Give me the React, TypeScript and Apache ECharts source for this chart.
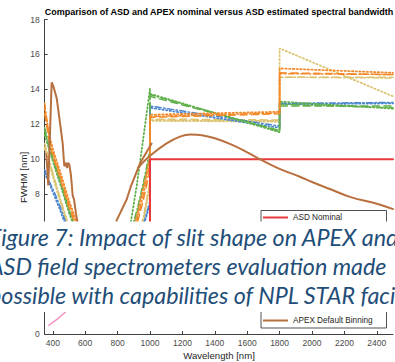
import React, { useEffect, useRef } from 'react';
import * as echarts from 'echarts';

const chartTitle = 'Comparison of ASD and APEX nominal versus ASD estimated spectral bandwidth';
const xAxisName = 'Wavelength [nm]';
const yAxisName = 'FWHM [nm]';
const xTicks = [400, 600, 800, 1000, 1200, 1400, 1600, 1800, 2000, 2200, 2400];
const captionLines = [
  'Figure 7: Impact of slit shape on APEX and',
  'ASD field spectrometers evaluation made',
  'possible with capabilities of NPL STAR facility',
];

// ASD detector regions
const vnirWl = [350, 380, 410, 445, 475, 505, 600, 700, 800, 880, 920, 960, 1000];
const swir1Wl = [1000, 1800];
const swir2Wl = [1800, 2500];

// ASD estimated bandwidths: VNIR values, SWIR1 [start,end], SWIR2 [start,end]
const blueDashDotVnir = [9.4, 8.7, 8.1, 7.3, 6.5, 5.7, 3.6, 2.7, 3.2, 4.3, 5.2, 6.3, 7.6];
const blueDashDotSwir1 = [13.05, 11.9];
const blueDashDotSwir2 = [13.2, 13.25];
const blueDottedVnir = [9.2, 8.6, 7.9, 7.1, 6.3, 5.5, 3.5, 2.6, 3.1, 4.2, 5.1, 6.2, 7.4];
const blueDottedSwir1 = [12.95, 11.8];
const blueDottedSwir2 = [13.15, 13.2];

const orangeDashDotVnir = [13.2, 11.1, 10.1, 9.1, 8.2, 7.3, 5.0, 3.8, 4.4, 5.3, 6.5, 8.0, 9.8];
const orangeDashDotSwir1 = [12.45, 12.65];
const orangeDashDotSwir2 = [14.9, 14.85];
const orangeDottedVnir = [12.9, 11.3, 10.3, 9.3, 8.4, 7.5, 5.1, 3.9, 4.5, 5.5, 6.8, 8.4, 10.1];
const orangeDottedSwir1 = [12.55, 12.72];
const orangeDottedSwir2 = [15.2, 14.95];
const orangeDashedVnir = [12.6, 10.9, 9.9, 8.9, 8.0, 7.1, 4.9, 3.7, 4.3, 5.2, 6.3, 7.7, 9.4];
const orangeDashedSwir1 = [12.4, 12.6];
const orangeDashedSwir2 = [14.95, 14.85];

const yellowDashDotVnir = [10.9, 9.9, 8.9, 7.8, 6.9, 6.0, 3.9, 3.0, 3.6, 4.6, 5.5, 6.7, 8.8];
const yellowDashDotSwir1 = [12.25, 12.2];
const yellowDashDotSwir2 = [14.7, 14.65];
const yellowDottedVnir = [10.6, 9.7, 8.7, 7.6, 6.7, 5.8, 3.8, 2.9, 3.5, 4.5, 5.4, 6.5, 8.5];
const yellowDottedSwir1 = [12.2, 12.15];
const yellowDottedSwir2 = [16.35, 13.6];
const yellowDashedVnir = [10.7, 9.8, 8.8, 7.7, 6.8, 5.9, 3.9, 3.0, 3.6, 4.6, 5.5, 6.6, 8.6];
const yellowDashedSwir1 = [12.3, 12.25];
const yellowDashedSwir2 = [14.7, 14.7];

const greenDashDotVnir = [11.8, 10.7, 9.8, 8.8, 7.9, 7.0, 4.6, 3.5, 4.3, 5.8, 7.1, 8.7, 10.5];
const greenDashDotSwir1 = [13.7, 11.6];
const greenDashDotSwir2 = [13.15, 12.95];
const greenDottedVnir = [11.4, 10.5, 9.6, 8.6, 7.7, 6.8, 4.5, 3.4, 4.2, 6.3, 8.6, 11.3, 14.05];
const greenDottedSwir1 = [13.75, 11.55];
const greenDottedSwir2 = [13.3, 12.9];
const greenDashedVnir = [11.6, 10.6, 9.7, 8.7, 7.8, 6.9, 4.5, 3.4, 4.2, 5.7, 6.9, 8.5, 10.2];
const greenDashedSwir1 = [13.6, 11.65];
const greenDashedSwir2 = [13.05, 13.05];

// ASD nominal
const asdNominalWl = [350, 1000, 1000, 2500];
const asdNominalVal = [3, 3, 10, 10];

// APEX default binning
const apexVnirWl = [360, 372, 393, 403, 424, 440, 450, 461, 471, 481, 488, 495, 502, 512, 523, 531, 543, 560, 620, 700, 760, 794, 856, 880, 940, 1010];
const apexVnirVal = [10.3, 8.5, 14.4, 14.2, 13.5, 12.4, 11.7, 10.9, 9.6, 9.8, 9.5, 9.8, 9.7, 9.1, 7.9, 7.7, 6.9, 6.0, 4.0, 3.0, 4.2, 6.5, 7.7, 8.4, 9.8, 10.9];
const apexSwirWl = [925, 1000, 1100, 1185, 1250, 1320, 1400, 1500, 1600, 1680, 1800, 1925, 2000, 2110, 2234, 2400, 2500];
const apexSwirVal = [9.5, 10.2, 10.9, 11.3, 11.42, 11.38, 11.2, 10.85, 10.4, 10.0, 9.45, 9.0, 8.7, 8.3, 7.85, 7.45, 7.15];

// APEX nominal
const apexNominalWl = [376, 434, 520, 700, 1000];
const apexNominalVal = [0.5, 0.9, 1.6, 2.3, 2.8];

const C = {
  blue: '#4a86cf',
  orange: '#f4892a',
  yellow: '#dcc473',
  green: '#5fb04a',
  brown: '#b9703f',
  red: '#e8383d',
  pink: '#f48fc0',
};
const DOT = [1.3, 2.4];
const DASHDOT = [6, 2.5, 1.4, 2.5];
const DASH = [7, 4.5];

function zip(xs: number[], ys: number[]) {
  return xs.map((x, i) => [x, ys[i]]);
}
function asd(vnir: number[], s1: number[], s2: number[]) {
  return [...zip(vnirWl, vnir), ...zip(swir1Wl, s1), ...zip(swir2Wl, s2)];
}

export default function App() {
  const ref = useRef<HTMLDivElement>(null);
  useEffect(() => {
    if (!ref.current) return;
    const chart = echarts.init(ref.current, undefined, { renderer: 'svg' });
    const mk = (name: string, data: any[], color: string, type: any, width = 1.5, smooth: any = false) => ({
      name,
      type: 'line',
      data,
      symbol: 'none',
      smooth,
      z: 2,
      lineStyle: { color, width, type, cap: 'round' },
      itemStyle: { color },
    });
    const series = [
      mk('Yellow dotted', asd(yellowDottedVnir, yellowDottedSwir1, yellowDottedSwir2), C.yellow, DOT, 1.8),
      mk('Yellow dashed', asd(yellowDashedVnir, yellowDashedSwir1, yellowDashedSwir2), C.yellow, DASH),
      mk('Yellow dash-dot', asd(yellowDashDotVnir, yellowDashDotSwir1, yellowDashDotSwir2), C.yellow, DASHDOT),
      mk('Blue dotted', asd(blueDottedVnir, blueDottedSwir1, blueDottedSwir2), C.blue, DOT, 1.8),
      mk('Blue dash-dot', asd(blueDashDotVnir, blueDashDotSwir1, blueDashDotSwir2), C.blue, DASHDOT),
      mk('Green dashed', asd(greenDashedVnir, greenDashedSwir1, greenDashedSwir2), C.green, DASH),
      mk('Green dash-dot', asd(greenDashDotVnir, greenDashDotSwir1, greenDashDotSwir2), C.green, DASHDOT),
      mk('Green dotted', asd(greenDottedVnir, greenDottedSwir1, greenDottedSwir2), C.green, DOT, 1.8),
      mk('Orange dashed', asd(orangeDashedVnir, orangeDashedSwir1, orangeDashedSwir2), C.orange, DASH),
      mk('Orange dash-dot', asd(orangeDashDotVnir, orangeDashDotSwir1, orangeDashDotSwir2), C.orange, DASHDOT),
      mk('Orange dotted', asd(orangeDottedVnir, orangeDottedSwir1, orangeDottedSwir2), C.orange, DOT, 1.8),
      mk('APEX Nominal', zip(apexNominalWl, apexNominalVal), C.pink, 'solid', 1.5),
      mk('ASD Nominal', zip(asdNominalWl, asdNominalVal), C.red, 'solid', 2),
      mk('APEX Default Binning', zip(apexVnirWl, apexVnirVal), C.brown, 'solid', 2),
      mk('APEX Default Binning', zip(apexSwirWl, apexSwirVal), C.brown, 'solid', 2, 0.4),
    ];
    const axisColor = '#404040';
    const legendBase = {
      orient: 'vertical',
      left: 263,
      itemWidth: 25,
      itemHeight: 2,
      padding: 0,
      z: 5,
      selectedMode: false,
      textStyle: { fontSize: 8.2, color: '#262626', fontFamily: 'Liberation Sans' },
    };
    chart.setOption({
      animation: false,
      backgroundColor: '#ffffff',
      textStyle: { fontFamily: 'Liberation Sans, Arial, sans-serif' },
      grid: { left: 44.7, right: 2, top: 19.5, bottom: 28, containLabel: false },
      xAxis: {
        type: 'value',
        min: 350,
        max: 2500,
        axisLine: { show: true, lineStyle: { color: axisColor, width: 1 } },
        axisTick: { show: true, inside: true, length: 3, customValues: xTicks, lineStyle: { color: axisColor } },
        axisLabel: {
          customValues: xTicks,
          fontSize: 8.5,
          color: '#4a4a4a',
          margin: 4,
          formatter: (v: number) => String(v),
        },
        splitLine: { show: false },
      },
      yAxis: {
        type: 'value',
        min: 0,
        max: 18,
        interval: 2,
        axisLine: { show: true, lineStyle: { color: axisColor, width: 1 } },
        axisTick: { show: true, inside: true, length: 3, lineStyle: { color: axisColor } },
        axisLabel: { fontSize: 8.5, color: '#4a4a4a', margin: 5 },
        splitLine: { show: false },
      },
      legend: [
        { ...legendBase, data: [{ name: 'ASD Nominal', icon: 'rect' }], top: 213.5 },
        { ...legendBase, data: [{ name: 'APEX Default Binning', icon: 'rect' }], top: 316.5 },
      ],
      series,
      graphic: [
        {
          type: 'text',
          z: 5,
          x: 219,
          y: 11.5,
          style: {
            text: chartTitle,
            font: 'bold 9px "Liberation Sans", Arial, sans-serif',
            fill: '#000000',
            textAlign: 'center',
            textVerticalAlign: 'middle',
          },
        },
        {
          type: 'text',
          z: 5,
          x: 219,
          y: 355,
          style: {
            text: xAxisName,
            font: '9.6px "Liberation Sans", Arial, sans-serif',
            fill: '#262626',
            textAlign: 'center',
            textVerticalAlign: 'middle',
          },
        },
        {
          type: 'text',
          z: 5,
          x: 23.5,
          y: 177.5,
          rotation: Math.PI / 2,
          style: {
            text: yAxisName,
            font: '9.6px "Liberation Sans", Arial, sans-serif',
            fill: '#262626',
            textAlign: 'center',
            textVerticalAlign: 'middle',
          },
        },
        {
          type: 'rect',
          z: 3,
          shape: { x: 261, y: 210.5, width: 125.5, height: 117.5 },
          style: { fill: '#ffffff', stroke: '#262626', lineWidth: 0.8 },
        },
        {
          type: 'rect',
          z: 10,
          shape: { x: 0, y: 221.5, width: 395, height: 90.5 },
          style: { fill: '#ffffff' },
        },
        ...captionLines.map((t, i) => ({
          type: 'text',
          z: 11,
          x: -11,
          y: 237 + i * 29,
          style: {
            text: t,
            font: 'italic 23.3px Lato, "Open Sans", sans-serif',
            fill: '#1f4e79',
            textAlign: 'left',
            textVerticalAlign: 'middle',
          },
        })),
      ],
    });
    return () => chart.dispose();
  }, []);
  return (
    <div
      ref={ref}
      style={{ position: 'fixed', left: 0, top: 0, width: 395, height: 362, background: '#fff' }}
    />
  );
}
